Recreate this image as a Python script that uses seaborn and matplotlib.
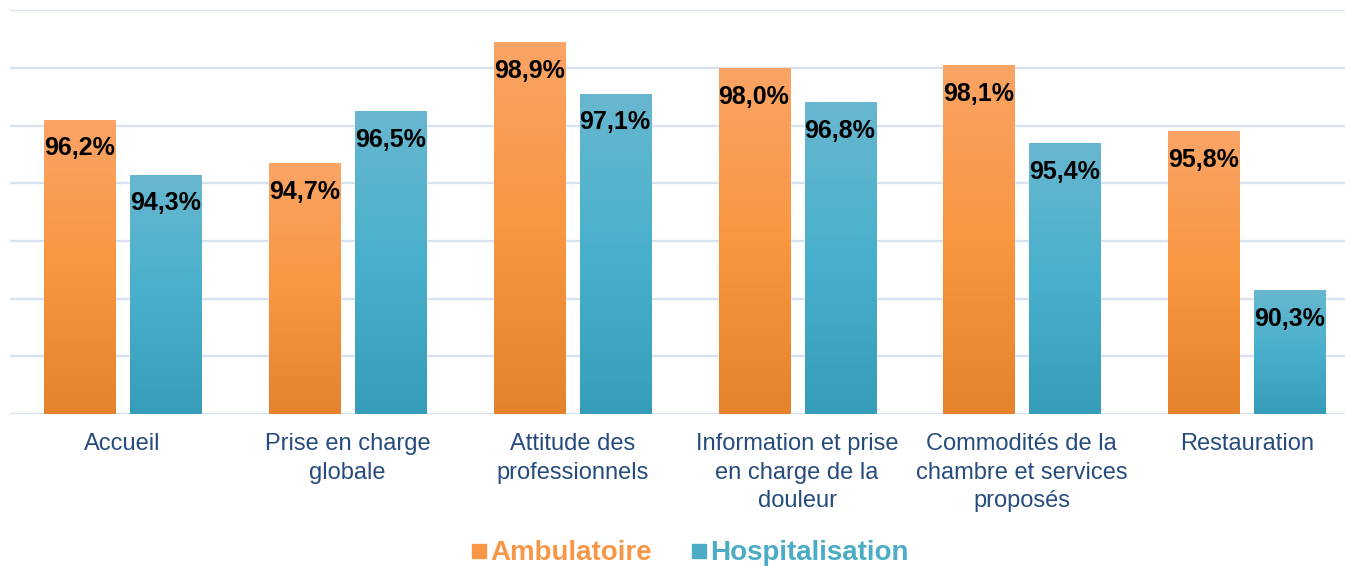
import matplotlib
matplotlib.use("Agg")
import matplotlib.pyplot as plt
from matplotlib.colors import LinearSegmentedColormap
from matplotlib.lines import Line2D
import seaborn as sns
import pandas as pd
import numpy as np

# data
categories = [
    "Accueil",
    "Prise en charge\nglobale",
    "Attitude des\nprofessionnels",
    "Information et prise\nen charge de la\ndouleur",
    "Commodités de la\nchambre et services\nproposés",
    "Restauration",
]
ambulatoire = [96.2, 94.7, 98.9, 98.0, 98.1, 95.8]
hospitalisation = [94.3, 96.5, 97.1, 96.8, 95.4, 90.3]
series = ["Ambulatoire", "Hospitalisation"]

df = pd.DataFrame({
    "cat": categories * 2,
    "val": ambulatoire + hospitalisation,
    "serie": [series[0]] * 6 + [series[1]] * 6,
})

orange = "#F79646"
teal = "#4BACC6"
grad = {
    "Ambulatoire": LinearSegmentedColormap.from_list("o", ["#E5822C", "#FA9640", "#F9A466"]),
    "Hospitalisation": LinearSegmentedColormap.from_list("t", ["#369DB8", "#48B0CC", "#68B7CF"]),
}

sns.set_style("white")
plt.rcParams["font.family"] = ["Liberation Sans", "DejaVu Sans"]

fig = plt.figure(figsize=(13.45, 5.67), dpi=100)
# plot area runs a little past the right edge, like the original
ax = fig.add_axes([0.0075, 0.27, 1.003, 0.712])
ax.set_clip_on(False)

sns.barplot(data=df, x="cat", y="val", hue="serie", palette=[orange, teal],
            width=0.765, gap=0.174, ax=ax, legend=False, zorder=3)

ax.set_ylim(86, 100)
ax.set_xlim(-0.5, 5.5)
ax.set_yticks(np.arange(86, 101, 2))
ax.yaxis.grid(True, color="#D7E2F1", linewidth=1.7, zorder=0)
ax.set_axisbelow(True)
for s in ax.spines.values():
    s.set_visible(False)
ax.set_yticklabels([])
ax.tick_params(axis="y", length=0)
ax.tick_params(axis="x", length=0, pad=14, labelsize=17, labelcolor="#264B7C")
for t in ax.get_xticklabels():
    t.set_linespacing(1.37)
ax.set_xlabel("")
ax.set_ylabel("")

# gradient fill + labels
vals = ambulatoire + hospitalisation
names = [series[0]] * 6 + [series[1]] * 6
gradient = np.linspace(0, 1, 256).reshape(-1, 1)
for patch, v, name in zip(ax.patches, vals, names):
    x0, w = patch.get_x(), patch.get_width()
    im = ax.imshow(gradient, cmap=grad[name], aspect="auto", origin="lower",
                   extent=[x0, x0 + w, 86, v], zorder=3.5)
    im.set_clip_path(patch)
    ax.annotate(f"{v:.1f}%".replace(".", ","), (x0 + w / 2, v), xytext=(0, -12),
                textcoords="offset points", ha="center", va="top",
                fontsize=18, fontweight="bold", color="black", zorder=5)
ax.set_xlim(-0.5, 5.5)
ax.set_ylim(86, 100)

handles = [Line2D([], [], marker="s", linestyle="", markersize=10,
                  markerfacecolor=c, markeredgecolor=c) for c in (orange, teal)]
fig.legend(handles, series, loc="center", bbox_to_anchor=(0.512, 0.024), ncol=2,
           frameon=False, prop={"size": 20, "weight": "bold"},
           labelcolor=[orange, teal], handletextpad=0.0, columnspacing=1.3,
           handlelength=0.8)

fig.savefig("out.png", dpi=100)
